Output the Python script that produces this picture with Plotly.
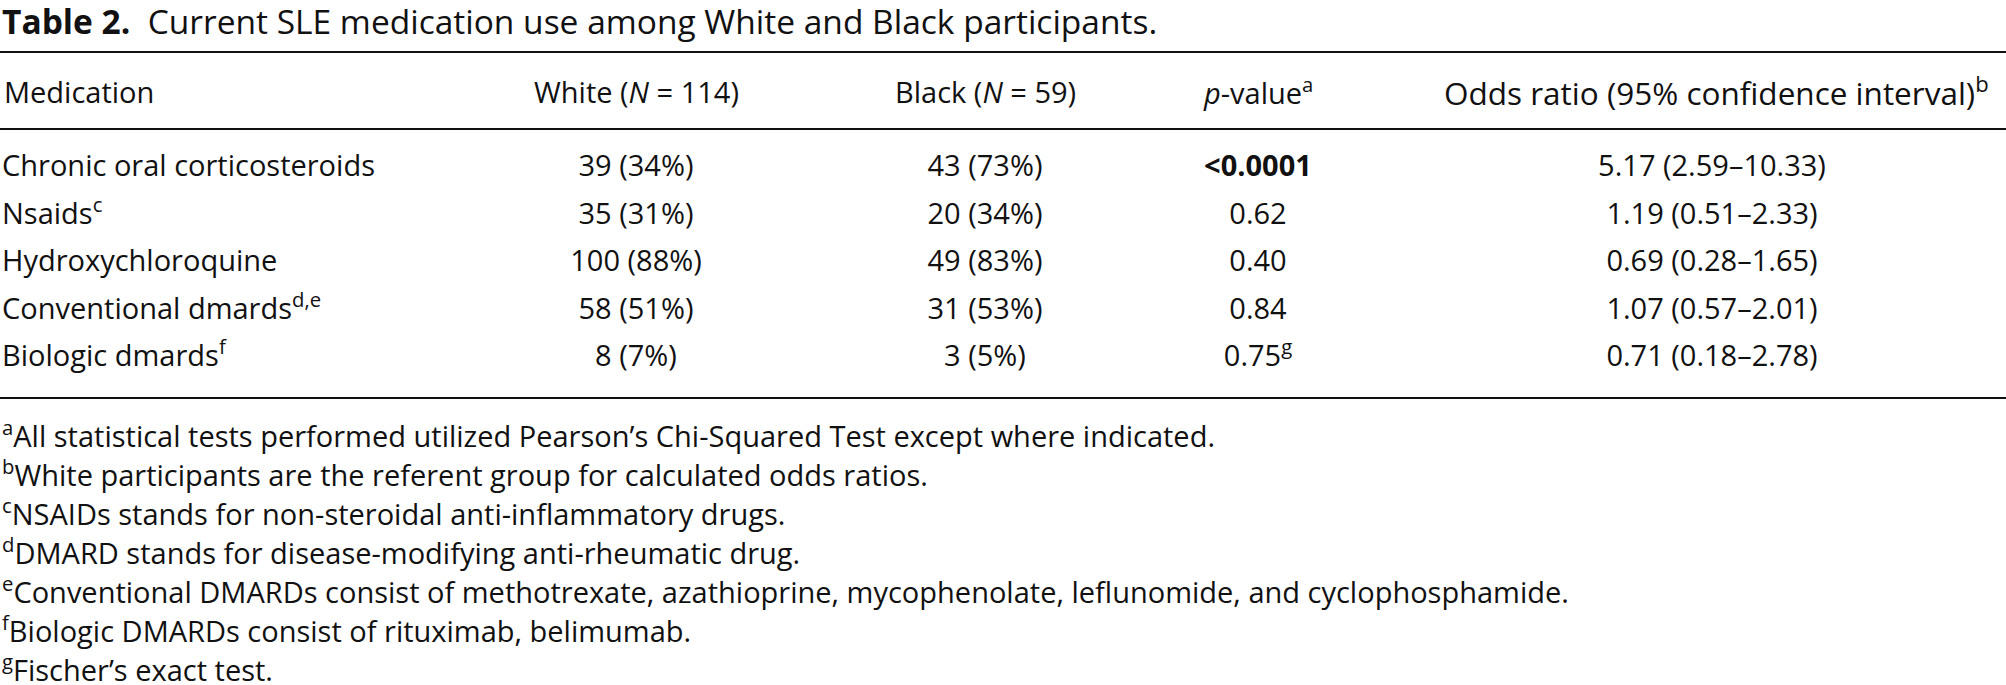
import plotly.graph_objects as go

# table values
medications = ["Chronic oral corticosteroids", "Nsaids", "Hydroxychloroquine",
               "Conventional dmards", "Biologic dmards"]
med_notes = ["", "c", "", "d,e", "f"]
white_n = [39, 35, 100, 58, 8]
white_pct = [34, 31, 88, 51, 7]
black_n = [43, 20, 49, 31, 3]
black_pct = [73, 34, 83, 53, 5]
p_values = ["<0.0001", "0.62", "0.40", "0.84", "0.75"]
p_notes = ["", "", "", "", "g"]
odds_ratio = [5.17, 1.19, 0.69, 1.07, 0.71]
ci_low = [2.59, 0.51, 0.28, 0.57, 0.18]
ci_high = [10.33, 2.33, 1.65, 2.01, 2.78]

headers = ["Medication", "White (<i>N</i> = 114)", "Black (<i>N</i> = 59)",
           "<i>p</i>-value<sup>a</sup>",
           "Odds ratio (95% confidence interval)<sup>b</sup>"]

footnote_marks = ["a", "b", "c", "d", "e", "f", "g"]
footnotes = [
    "All statistical tests performed utilized Pearson’s Chi-Squared Test except where indicated.",
    "White participants are the referent group for calculated odds ratios.",
    "NSAIDs stands for non-steroidal anti-inflammatory drugs.",
    "DMARD stands for disease-modifying anti-rheumatic drug.",
    "Conventional DMARDs consist of methotrexate, azathioprine, mycophenolate, leflunomide, and cyclophosphamide.",
    "Biologic DMARDs consist of rituximab, belimumab.",
    "Fischer’s exact test.",
]

title = "<b>Table 2.</b>\u00a0\u00a0Current SLE medication use among White and Black participants."

W, H = 2006, 685
FONT = "Open Sans"
FS = 29
INK = "#111111"

# layout in pixel units (y grows downwards)
row_y0, row_step = 169, 47.5
row_ys = [row_y0 + i * row_step for i in range(len(medications))]
header_y = 91
col_x = [2, 636, 985, 1258, 1712]
header_x = [2, 636, 985, 1258, 1716]
header_fs = [FS, FS, FS, FS, 31.5]
foot_y0, foot_step = 434, 39.0


def sup(s):
    return f"<sup>{s}</sup>" if s else ""


def fmt_p(p):
    if p.startswith("<"):
        return "<b>" + p.replace("<", "&lt;") + "</b>"
    return p


cells = [
    [m + sup(n) for m, n in zip(medications, med_notes)],
    [f"{n} ({p}%)" for n, p in zip(white_n, white_pct)],
    [f"{n} ({p}%)" for n, p in zip(black_n, black_pct)],
    [fmt_p(p) + sup(n) for p, n in zip(p_values, p_notes)],
    [f"{o:.2f} ({lo:.2f}–{hi:.2f})" for o, lo, hi in zip(odds_ratio, ci_low, ci_high)],
]

fig = go.Figure()
for i, col in enumerate(cells):
    fig.add_trace(go.Scatter(
        x=[col_x[i]] * len(col),
        y=row_ys,
        text=col,
        mode="text",
        textposition="middle right" if i == 0 else "middle center",
        textfont=dict(family=FONT, size=FS, color=INK),
        hoverinfo="skip",
        showlegend=False,
    ))

ann = []
ann.append(dict(x=0, y=21, text=title, xanchor="left", size=33.5))
for i, h in enumerate(headers):
    ann.append(dict(x=header_x[i], y=header_y, text=h, size=header_fs[i],
                    xanchor="left" if i == 0 else "center"))
for i, (m, t) in enumerate(zip(footnote_marks, footnotes)):
    ann.append(dict(x=0, y=foot_y0 + i * foot_step, text=sup(m) + t,
                    xanchor="left", size=FS))

fig.update_layout(
    annotations=[dict(x=a["x"], y=a["y"], text=a["text"], xanchor=a["xanchor"],
                      xref="x", yref="y", yanchor="middle", showarrow=False,
                      font=dict(family=FONT, size=a["size"], color=INK))
                 for a in ann],
    shapes=[
        dict(type="line", xref="paper", yref="y", x0=0, x1=1, y0=y, y1=y,
             line=dict(color=INK, width=2))
        for y in (52, 129, 398)
    ],
    width=W, height=H,
    margin=dict(l=0, r=0, t=0, b=0),
    paper_bgcolor="white", plot_bgcolor="white",
    xaxis=dict(range=[0, W], visible=False, fixedrange=True),
    yaxis=dict(range=[H, 0], visible=False, fixedrange=True),
)

# page body has a default 8px margin; drop it so the table sits at the window edge
fig.write_html("out.html", config={"displayModeBar": False},
               post_script="document.body.style.margin='0';")
